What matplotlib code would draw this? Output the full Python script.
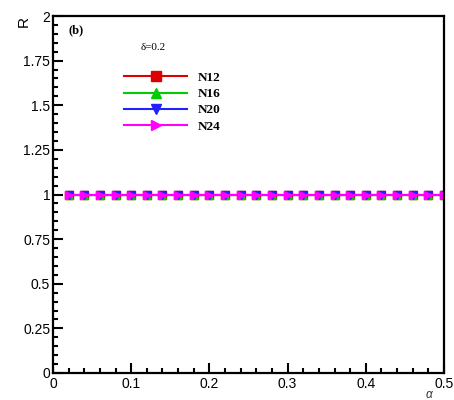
import matplotlib
matplotlib.use("Agg")
import matplotlib.pyplot as plt
from matplotlib.ticker import MultipleLocator, AutoMinorLocator, FuncFormatter

# data
alpha = [0.02, 0.04, 0.06, 0.08, 0.10, 0.12, 0.14, 0.16, 0.18, 0.20,
         0.22, 0.24, 0.26, 0.28, 0.30, 0.32, 0.34, 0.36, 0.38, 0.40,
         0.42, 0.44, 0.46, 0.48, 0.50]
R_N12 = [1.0] * 25
R_N16 = [1.0] * 25
R_N20 = [1.0] * 25
R_N24 = [1.0] * 25
labels = ["N12", "N16", "N20", "N24"]

plt.rcParams['font.family'] = ['Liberation Sans', 'DejaVu Sans']

fig = plt.figure(figsize=(4.54, 4.0), dpi=100)
ax = fig.add_axes([0.1167, 0.0675, 0.8613, 0.8925])

ax.plot(alpha, R_N12, color="#dd0000", lw=1.5, marker="s", ms=6, label=labels[0])
ax.plot(alpha, R_N16, color="#00cc00", lw=1.5, marker="^", ms=6, label=labels[1])
ax.plot(alpha, R_N20, color="#2222ff", lw=1.5, marker="v", ms=6, label=labels[2])
ax.plot(alpha, R_N24, color="#ff00ff", lw=1.5, marker=">", ms=6, label=labels[3])

ax.set_xlim(0, 0.5)
ax.set_ylim(0, 2)
ax.xaxis.set_major_locator(MultipleLocator(0.1))
ax.xaxis.set_minor_locator(AutoMinorLocator(5))
ax.yaxis.set_major_locator(MultipleLocator(0.25))
ax.yaxis.set_minor_locator(AutoMinorLocator(5))
fmt = FuncFormatter(lambda v, p: "%g" % round(v, 3))
ax.xaxis.set_major_formatter(fmt)
ax.yaxis.set_major_formatter(fmt)
ax.tick_params(which="both", direction="in", labelsize=10, width=1.5)
ax.tick_params(which="major", length=7, pad=2)
ax.tick_params(which="minor", length=3.5)
ax.tick_params(axis="x", pad=3)
for s in ax.spines.values():
    s.set_linewidth(1.6)

ax.text(-0.075, 1.0, "R", transform=ax.transAxes, rotation=90,
        fontsize=11, ha="center", va="top")
ax.text(0.962, -0.062, "\u03b1", transform=ax.transAxes, fontsize=8.5,
        fontstyle="italic", ha="center", va="center", color="#333333")
ax.text(0.04, 0.96, "(b)", transform=ax.transAxes, fontsize=9,
        fontweight="bold", family="Liberation Serif", ha="left", va="center")
ax.text(0.225, 0.913, "\u03b4=0.2", transform=ax.transAxes, fontsize=8,
        family="Liberation Serif", ha="left", va="center")

ax.legend(loc="upper left", bbox_to_anchor=(0.165, 0.862), frameon=False,
          prop={"family": "Liberation Serif", "weight": "bold", "size": 9.5},
          handlelength=4.8, labelspacing=0.3, borderpad=0, handletextpad=0.8,
          markerscale=1.2)

fig.savefig("out.png", dpi=100)
